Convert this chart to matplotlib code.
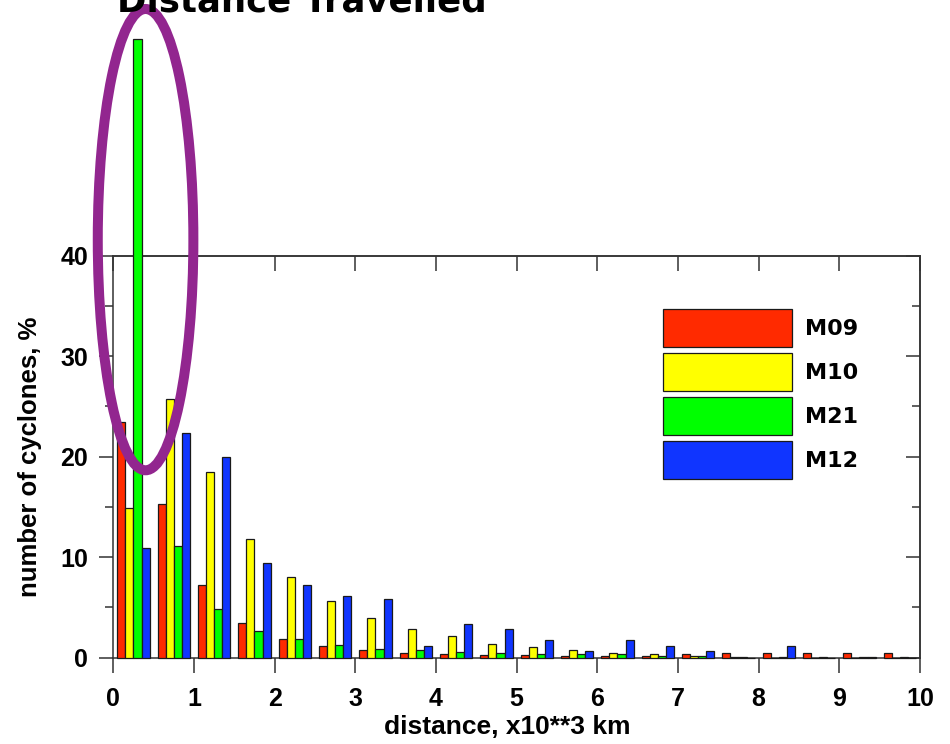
import numpy as np
import matplotlib
matplotlib.use('Agg')
import matplotlib.pyplot as plt
from matplotlib.patches import Ellipse

# histogram of cyclone track length, bins of 500 km
bin_left = np.arange(0, 10, 0.5)
labels = ['M09', 'M10', 'M21', 'M12']
colors = ['#ff2a00', '#ffff00', '#00ff00', '#1035ff']
m09 = [23.5, 15.3, 7.2, 3.5, 1.9, 1.2, 0.77, 0.47, 0.37, 0.24,
       0.24, 0.2, 0.2, 0.2, 0.33, 0.5, 0.5, 0.5, 0.5, 0.5]
m10 = [14.9, 25.7, 18.5, 11.8, 8.0, 5.6, 4.0, 2.86, 2.2, 1.33,
       1.07, 0.77, 0.5, 0.33, 0.2, 0.1, 0, 0, 0, 0]
m21 = [61.6, 11.1, 4.85, 2.7, 1.85, 1.3, 0.9, 0.73, 0.6, 0.47,
       0.33, 0.33, 0.33, 0.2, 0.17, 0.1, 0.1, 0.1, 0.1, 0.1]
m12 = [10.9, 22.4, 20.0, 9.4, 7.2, 6.1, 5.8, 1.2, 3.4, 2.86,
       1.73, 0.63, 1.76, 1.2, 0.67, 0, 1.2, 0, 0.1, 0]
series = [m09, m10, m21, m12]
xticks = list(range(11))
yticks = [0, 10, 20, 30, 40]
yminor = [5, 15, 25, 35]

font = 'Liberation Sans'
edge = '#333333'

fig = plt.figure(figsize=(9.5, 7.44), dpi=100)
ax = fig.add_axes([113.3 / 950, 1 - 657.7 / 744, 806.7 / 950, 402 / 744])

width = 0.1
for i, (name, vals, col) in enumerate(zip(labels, series, colors)):
    ax.bar(bin_left + width * (i + 1), vals, width=width, color=col,
           edgecolor='#1a1a1a', linewidth=0.9, label=name, clip_on=False, zorder=3)

ax.set_xlim(0, 10)
ax.set_ylim(0, 40)
ax.set_xticks(xticks)
ax.set_yticks(yticks)
ax.set_yticks(yminor, minor=True)
ax.tick_params(axis='x', direction='out', length=10.8, width=1.1, pad=10, color=edge)
ax.tick_params(axis='y', which='major', direction='out', length=10, width=1.1, pad=8, color=edge)
ax.tick_params(axis='y', which='minor', direction='out', length=5.5, width=1.1, color=edge)
for lab in ax.get_xticklabels() + ax.get_yticklabels():
    lab.set_fontfamily(font)
    lab.set_fontweight('bold')
    lab.set_fontsize(18)
for sp in ax.spines.values():
    sp.set_color(edge)
    sp.set_linewidth(1.1)

# inward ticks on the top and right frame
top = ax.secondary_xaxis('top')
top.set_xticks(xticks)
top.tick_params(direction='in', length=10.8, width=1.1, color=edge, labeltop=False)
right = ax.secondary_yaxis('right')
right.set_yticks(yticks)
right.set_yticks(yminor, minor=True)
right.tick_params(which='major', direction='in', length=10, width=1.1, color=edge, labelright=False)
right.tick_params(which='minor', direction='in', length=5.5, width=1.1, color=edge)
for s in (top, right):
    for sp in s.spines.values():
        sp.set_color(edge)
        sp.set_linewidth(1.1)

ax.set_xlabel('distance, x10**3 km', fontsize=19, fontweight='bold', family=font)
ax.xaxis.set_label_coords(0.488, -0.143)
ax.set_ylabel('number of cyclones, %', fontsize=18.5, fontweight='bold', family=font)
ax.yaxis.set_label_coords(-0.088, 0.5)

ax.legend(loc='upper left', bbox_to_anchor=(0.681, 0.867), frameon=False,
          prop={'family': 'DejaVu Sans', 'weight': 'bold', 'size': 16},
          handlelength=5.8, handleheight=2.25, labelspacing=0.27,
          handletextpad=0.6, borderpad=0, borderaxespad=0)

# highlight the M21 peak in the first bin
ax.add_patch(Ellipse((0.4, 41.6), 1.185, 45.9, fill=False, edgecolor='#92268f',
                     linewidth=7.2, clip_on=False, zorder=10))

fig.text(117 / 950, 1 - 11 / 744, 'Distance Travelled', fontsize=25.6,
         fontweight='bold', family='DejaVu Sans', ha='left', va='baseline')

fig.savefig('out.png', dpi=100)
